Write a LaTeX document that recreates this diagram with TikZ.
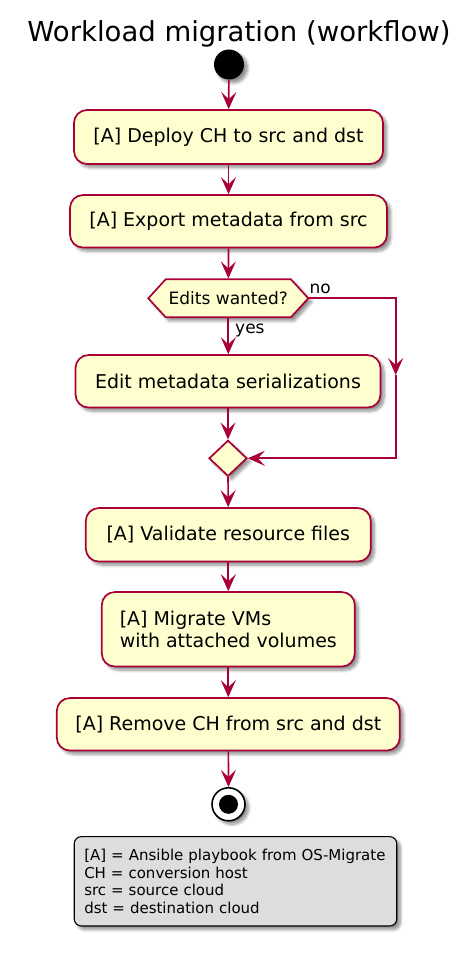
\documentclass[tikz,border=0pt]{standalone}
\usepackage{fontspec}
\setmainfont{DejaVu Sans}
\usetikzlibrary{arrows.meta,shapes.geometric,shapes.symbols,shadows.blur}
\definecolor{pborder}{HTML}{A80036}
\definecolor{pfill}{HTML}{FEFECE}
\definecolor{pnote}{HTML}{DDDDDD}
\tikzset{
  shd/.style={blur shadow={shadow xshift=3.5pt,shadow yshift=-3.5pt,shadow blur radius=3pt,
    shadow blur steps=8,shadow opacity=45}},
  act/.style={draw=pborder,fill=pfill,line width=1.7pt,rounded corners=13pt,
    inner xsep=0pt,inner ysep=0pt,shd,font=\fontsize{19}{21.5}\selectfont},
  flow/.style={draw=pborder,line width=1.7pt,
    -{Stealth[length=17pt,width=15pt,inset=7pt]}},
  lbl/.style={font=\fontsize{17}{19}\selectfont,inner sep=0pt}
}
\begin{document}
\begin{tikzpicture}[x=1pt,y=-1pt]
\useasboundingbox (0,0) rectangle (471,957);
\node[font=\fontsize{27.5}{32}\selectfont,inner sep=0pt,anchor=base] (title) at (239,41.7) {Workload migration (workflow)};
\node[circle,fill=black,minimum size=30pt,inner sep=0pt,shd] (start) at (229,64.5) {};
\node[act,minimum width=309pt,minimum height=54pt] (a1) at (228.5,137) {[A] Deploy CH to src and dst};
\node[act,minimum width=317pt,minimum height=52.5pt] (a2) at (228.5,221.3) {[A] Export metadata from src};
\node[shape=signal,signal to=east and west,signal pointer angle=95,draw=pborder,fill=pfill,
  line width=1.7pt,minimum width=160pt,minimum height=38pt,inner sep=0pt,shd,
  font=\fontsize{17}{19}\selectfont] (q) at (228.3,298.3) {Edits wanted?};
\node[act,minimum width=305pt,minimum height=52.5pt] (a3) at (228,381.3) {Edit metadata serializations};
\node[diamond,draw=pborder,fill=pfill,line width=1.7pt,minimum width=38pt,minimum height=36pt,
  inner sep=0pt,shd] (m) at (228,458.3) {};
\node[act,minimum width=285pt,minimum height=53.5pt] (a4) at (228.3,534.8) {[A] Validate resource files};
\node[act,minimum width=253pt,minimum height=74.5pt,align=left] (a5) at (228.3,629.3) {[A] Migrate VMs\\with attached volumes};
\node[act,minimum width=343pt,minimum height=52.5pt] (a6) at (228.3,724.3) {[A] Remove CH from src and dst};
\node[circle,draw=black,fill=white,line width=1.6pt,minimum size=33pt,inner sep=0pt,shd] (end) at (228.5,804.3) {};
\node[circle,fill=black,minimum size=19pt,inner sep=0pt] (endin) at (end.center) {};
\node[draw=black,fill=pnote,line width=1.1pt,rounded corners=7pt,align=left,
  minimum width=322.5pt,minimum height=89.3pt,text width=302.5pt,inner xsep=10pt,shd,
  font=\fontsize{15}{17.5}\selectfont] (legend) at (235.5,881.3)
  {[A] = Ansible playbook from OS-Migrate\\CH = conversion host\\src = source cloud\\dst = destination cloud};
\coordinate (c1) at (395.7,375);
\draw[flow] (start) -- (a1);
\draw[flow] (a1) -- (a2);
\draw[flow] (a2) -- (q);
\draw[flow] (q.south) -- (q.south |- a3.north);
\draw[flow] (q.east) -| (c1);
\draw[flow] (c1) |- (m.east);
\draw[flow] (a3.south) -- (a3.south |- m.north);
\draw[flow] (m) -- (a4);
\draw[flow] (a4) -- (a5);
\draw[flow] (a5) -- (a6);
\draw[flow] (a6) -- (end);
\node[lbl,anchor=base west] (yes) at (235,333) {yes};
\node[lbl,anchor=base west] (no) at (309.5,294) {no};
\end{tikzpicture}
\end{document}
